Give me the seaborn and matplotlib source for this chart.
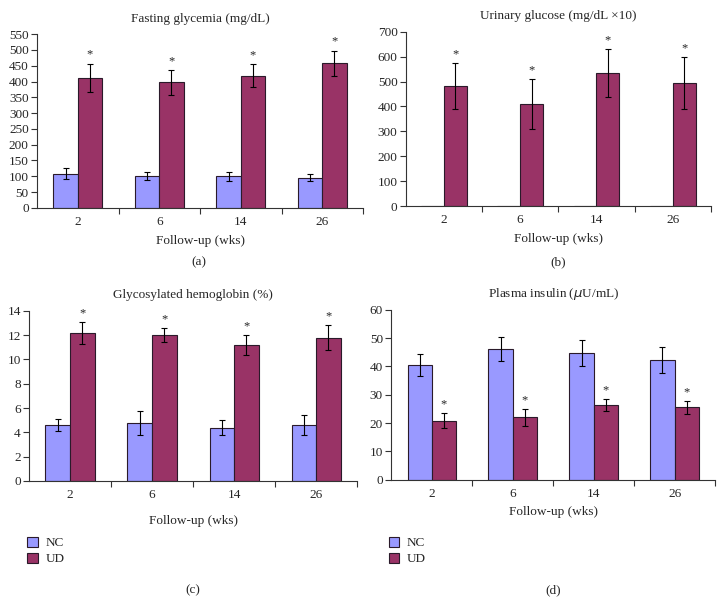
import matplotlib
matplotlib.use('Agg')
import matplotlib.pyplot as plt
import numpy as np
import pandas as pd
import seaborn as sns
from matplotlib.ticker import FixedLocator

weeks = ['2', '6', '14', '26']
groups = ['NC', 'UD']

# fasting glycemia (mg/dL)
glyc_nc = [108, 100, 100, 96]
glyc_nc_err = [17, 12, 15, 12]
glyc_ud = [412, 397, 418, 458]
glyc_ud_err = [45, 40, 36, 40]

# urinary glucose (mg/dL x10)
urin_nc = [2, 2, 2, 2]
urin_nc_err = [0, 0, 0, 0]
urin_ud = [483, 411, 533, 494]
urin_ud_err = [92, 100, 97, 103]

# glycosylated hemoglobin (%)
hb_nc = [4.6, 4.8, 4.4, 4.6]
hb_nc_err = [0.5, 1.0, 0.6, 0.8]
hb_ud = [12.2, 12.0, 11.2, 11.8]
hb_ud_err = [0.9, 0.6, 0.8, 1.0]

# plasma insulin (uU/mL)
ins_nc = [40.5, 46.0, 44.8, 42.3]
ins_nc_err = [4.0, 4.2, 4.5, 4.5]
ins_ud = [20.8, 22.0, 26.3, 25.5]
ins_ud_err = [2.6, 2.9, 2.1, 2.2]

colors = {'NC': '#9999ff', 'UD': '#993366'}

sns.set_style('white')
plt.rcParams['font.family'] = ['Liberation Serif', 'DejaVu Serif']
plt.rcParams['font.size'] = 9.5
FS = 9.5


def draw_panel(ax, title, nc, nc_err, ud, ud_err, ymax, ystep, xpad=4, legend=False):
    df = pd.DataFrame({
        'week': weeks * 2,
        'group': ['NC'] * 4 + ['UD'] * 4,
        'value': list(nc) + list(ud),
    })
    sns.barplot(data=df, x='week', y='value', hue='group', order=weeks,
                hue_order=groups, palette=colors, width=0.6, gap=0,
                errorbar=None, edgecolor='#2a1a2a', linewidth=0.8,
                saturation=1, ax=ax, legend=legend)
    errs = {'NC': nc_err, 'UD': ud_err}
    vals = {'NC': nc, 'UD': ud}
    for cont, g in zip(ax.containers, groups):
        xs = [p.get_x() + p.get_width() / 2 for p in cont.patches]
        e = np.array(errs[g])
        v = np.array(vals[g])
        if e.max() > 0:
            ax.errorbar(xs, v, yerr=e, fmt='none', ecolor='black',
                        elinewidth=0.8, capsize=2.2, capthick=0.8)
        if g == 'UD':
            for x, top in zip(xs, v + e):
                ax.annotate('*', (x, top), xytext=(0, 2),
                            textcoords='offset points', ha='center',
                            va='bottom', fontsize=9)
    ax.set_xlim(-0.5, 3.5)
    ax.set_ylim(0, ymax)
    ax.set_yticks(np.arange(0, ymax + ystep / 2, ystep))
    ax.set_title(title, fontsize=FS, pad=9)
    ax.set_xlabel('Follow-up (wks)', fontsize=FS, labelpad=xpad)
    ax.set_ylabel('')
    sns.despine(ax=ax)
    for s in ['left', 'bottom']:
        ax.spines[s].set_color('#333333')
        ax.spines[s].set_linewidth(0.8)
    ax.tick_params(axis='x', which='major', length=0, pad=6, labelsize=FS)
    ax.xaxis.set_minor_locator(FixedLocator([0.5, 1.5, 2.5, 3.5]))
    ax.tick_params(axis='x', which='minor', length=4, width=0.8, direction='out', color='#333333')
    ax.tick_params(axis='y', length=4, width=0.8, direction='out', color='#333333', pad=2, labelsize=FS)
    ax.tick_params(left=True, bottom=True)
    ax.tick_params(axis='x', which='minor', bottom=True)
    if legend:
        h, l = ax.get_legend_handles_labels()
        ax.get_legend().remove()
        return h, l
    return None


fig = plt.figure(figsize=(7.26, 5.99), dpi=100)
ax_a = fig.add_axes([0.051, 0.653, 0.449, 0.290])
ax_b = fig.add_axes([0.559, 0.656, 0.420, 0.291])
ax_c = fig.add_axes([0.040, 0.197, 0.452, 0.284])
ax_d = fig.add_axes([0.539, 0.199, 0.446, 0.284])

draw_panel(ax_a, 'Fasting glycemia (mg/dL)', glyc_nc, glyc_nc_err, glyc_ud, glyc_ud_err, 550, 50, xpad=5)
draw_panel(ax_b, 'Urinary glucose (mg/dL \u00d710)', urin_nc, urin_nc_err, urin_ud, urin_ud_err, 700, 100, xpad=5)
h, l = draw_panel(ax_c, 'Glycosylated hemoglobin (%)', hb_nc, hb_nc_err, hb_ud, hb_ud_err, 14, 2, xpad=10, legend=True)
draw_panel(ax_d, 'Plasma insulin ($\\mu$U/mL)', ins_nc, ins_nc_err, ins_ud, ins_ud_err, 60, 10, xpad=4, legend=True)

for x in [0.030, 0.528]:
    fig.legend(h, l, loc='upper left', bbox_to_anchor=(x, 0.113), frameon=False,
               handlelength=0.8, handleheight=0.8, handletextpad=0.6,
               labelspacing=0.25, fontsize=FS, borderaxespad=0)

# panel letters
fig.text(0.274, 0.562, '(a)', ha='center', va='center')
fig.text(0.769, 0.562, '(b)', ha='center', va='center')
fig.text(0.266, 0.015, '(c)', ha='center', va='center')
fig.text(0.762, 0.015, '(d)', ha='center', va='center')

fig.savefig('out.png', dpi=100)
